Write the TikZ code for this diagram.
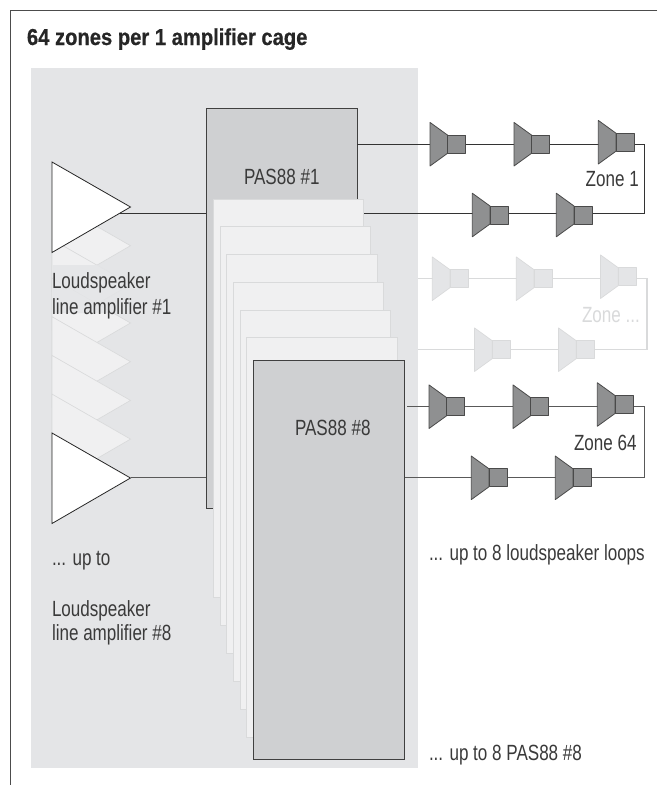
\documentclass[tikz,border=0pt]{standalone}
\usepackage{fontspec}
\setmainfont{Liberation Sans}
\newfontfamily\lblfont[FakeStretch=0.775]{Liberation Sans}
\newfontfamily\ttlfont[FakeStretch=0.875,FakeBold=0.6]{Liberation Sans Bold}
\definecolor{cagebg}{HTML}{E4E5E7}
\definecolor{pasfill}{HTML}{CFD0D2}
\definecolor{ghostfill}{HTML}{F0F0F1}
\definecolor{ghostline}{HTML}{D9DADB}
\definecolor{spkfill}{HTML}{8F9091}
\definecolor{spkline}{HTML}{4A4A4A}
\definecolor{ink}{HTML}{3A3A3A}
\tikzset{
  lbl/.style={anchor=base west,inner sep=0pt,outer sep=0pt,text=ink,font=\lblfont\fontsize{16.5}{19}\selectfont},
  ghostlbl/.style={lbl,text=ghostline},
  ttl/.style={anchor=base west,inner sep=0pt,outer sep=0pt,text=black!85,font=\ttlfont\fontsize{17.3}{20}\selectfont},
  wire/.style={draw=black!80,line width=0.6pt},
  wireg/.style={draw=black!65,line width=0.7pt},
  ghostwire/.style={draw=ghostline,line width=0.8pt},
  spkdark/.style={draw=spkline,fill=spkfill,line width=0.6pt,line join=round},
  spkghost/.style={draw=ghostline,fill=cagebg,line width=0.5pt,line join=round},
  pasbox/.style={rectangle,draw=black!75,fill=pasfill,line width=0.6pt,inner sep=0pt,outer sep=0pt,anchor=north west},
  stackbox/.style={rectangle,draw=ghostline,fill=ghostfill,line width=0.7pt,inner sep=0pt,outer sep=0pt,anchor=north west},
  ampwhite/.style={draw=black!85,fill=white,line width=0.6pt,line join=miter},
  ampghost/.style={draw=ghostline,fill=ghostfill,line width=0.5pt,line join=miter},
}
% box: style, x, y, w, h, name
\newcommand\pxbox[6]{\node[#1,minimum width=#4*0.75pt,minimum height=#5*0.75pt] (#6) at (#2,#3) {};}
% speaker: style, x, centre y
\newcommand\spk[3]{%
  \path[#1] (#2,#3-21.8) -- (#2+17.7,#3-9) -- (#2+17.7,#3+9) -- (#2,#3+21.8) -- cycle;
  \path[#1] (#2+17.7,#3-9) rectangle (#2+35.7,#3+9);}
% amplifier: style, tip y
\newcommand\amp[2]{\path[#1] (52,#2-45) -- (130.5,#2) -- (52,#2+45.5) -- cycle;}
\begin{document}
\begin{tikzpicture}[x=0.75pt,y=-0.75pt]
\useasboundingbox (0,0) rectangle (657,785);
\fill[white] (0,0) rectangle (657,785);
% frame
\draw[draw=black!70,line width=0.9pt] (657,10.3) -- (10.3,10.3) -- (10.3,785);
\node[ttl] (title) at (27,45) {64 zones per 1 amplifier cage};
% cage
\fill[cagebg] (31,68) rectangle (418,767.5);
% ghost amplifiers
\foreach \t in {245.7,284.4,323,361.7,400.4,439.1} {\amp{ampghost}{\t}}
\fill[cagebg,opacity=0.85] (52.6,265) -- (98,265) -- (135,265) -- (135,313) -- (52.6,313) -- cycle;
% free wire ends
\coordinate (a1out) at (120,213.3);
\coordinate (a8out) at (130.5,477.7);
\coordinate (z1start) at (357,144);
\coordinate (z1cornerT) at (644.7,144);
\coordinate (z1cornerB) at (644.7,213.7);
\coordinate (z1end) at (364,213.7);
\coordinate (gstart) at (418,278.7);
\coordinate (gcornerT) at (647,278.7);
\coordinate (gcornerB) at (647,349.5);
\coordinate (gend) at (418,349.5);
\coordinate (z64start) at (407.3,406.7);
\coordinate (z64cornerT) at (644.7,406.7);
\coordinate (z64cornerB) at (644.7,477.7);
\coordinate (z64end) at (404,477.7);
% PAS boxes
\pxbox{pasbox}{206}{108.5}{151}{399.5}{pas1}
\draw[wire] (a1out) -- (a1out -| pas1.west);
\draw[wireg] (a8out) -- (a8out -| pas1.west);
\draw[wire] (z1start) -- (z1cornerT) -- (z1cornerB) -- (z1end);
\draw[ghostwire] (gstart) -- (gcornerT) -- (gcornerB) -- (gend);
\pxbox{stackbox}{213.3}{199}{150.2}{398}{st1}
\pxbox{stackbox}{220}{226.5}{150.4}{398.5}{st2}
\pxbox{stackbox}{226.7}{254.5}{150.3}{398.5}{st3}
\pxbox{stackbox}{233.4}{282}{150.4}{399}{st4}
\pxbox{stackbox}{240}{310}{150.7}{399}{st5}
\pxbox{stackbox}{246.7}{337.5}{150.6}{399.5}{st6}
\draw[wireg] (z64start) -- (z64cornerT) -- (z64cornerB) -- (z64end);
\pxbox{pasbox}{253.5}{360}{150.5}{399}{pas8}
% white amplifiers
\amp{ampwhite}{207}
\amp{ampwhite}{478}
% speakers zone 1
\spk{spkdark}{430}{144.2}
\spk{spkdark}{514}{144.2}
\spk{spkdark}{598.3}{142.2}
\spk{spkdark}{472.3}{215}
\spk{spkdark}{556.3}{215}
% speakers ghost zone
\spk{spkghost}{432.3}{278.7}
\spk{spkghost}{516.3}{278.7}
\spk{spkghost}{600.5}{276.7}
\spk{spkghost}{474.5}{349.7}
\spk{spkghost}{558.5}{349.7}
% speakers zone 64
\spk{spkdark}{429}{406.7}
\spk{spkdark}{513}{406.7}
\spk{spkdark}{597.3}{404.5}
\spk{spkdark}{471.3}{477.8}
\spk{spkdark}{555.3}{477.8}
% labels
\node[lbl] (l1a) at (52,288) {Loudspeaker};
\node[lbl] (l1b) at (52,314) {line amplifier \#1};
\node[lbl] (lup) at (52,565) {... up to};
\node[lbl] (l8a) at (52,616) {Loudspeaker};
\node[lbl] (l8b) at (52,640.7) {line amplifier \#8};
\node[lbl] (p1) at (244,184) {PAS88 \#1};
\node[lbl] (p8) at (295,435) {PAS88 \#8};
\node[lbl] (zone1) at (585.7,186.7) {Zone 1};
\node[ghostlbl] (zoneg) at (582,322) {Zone ...};
\node[lbl] (zone64) at (574,450) {Zone 64};
\node[lbl] (loops) at (429,560.7) {... up to 8 loudspeaker loops};
\node[lbl] (upto) at (429,760) {... up to 8 PAS88 \#8};
\end{tikzpicture}
\end{document}
